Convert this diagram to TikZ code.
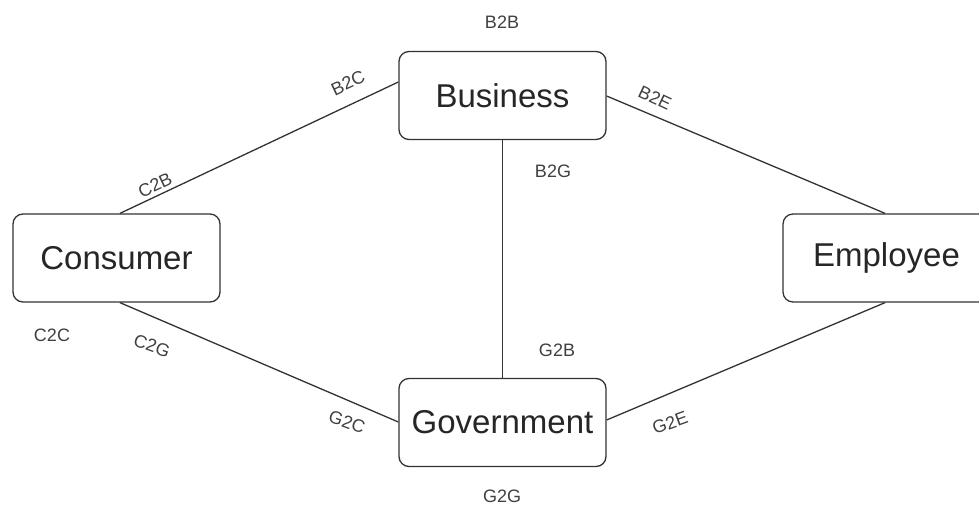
\documentclass[tikz,border=0pt]{standalone}
\usepackage{fontspec}
\setmainfont{Liberation Sans}
\begin{document}
\begin{tikzpicture}[x=1pt,y=-1pt,
  box/.style={draw=black!80, line width=1.3pt, rounded corners=10pt, minimum width=207pt, minimum height=88pt, inner sep=0pt, font=\fontsize{33}{36}\selectfont, text=black!85},
  conn/.style={draw=black!80, line width=1.3pt},
  lbl/.style={font=\fontsize{18}{20}\selectfont, text=black!75, inner sep=0pt}]
\useasboundingbox[fill=white] (0,0) rectangle (979,506);
\node[box] (bus) at (502.5,95.5) {Business};
\node[box] (con) at (116.5,258) {Consumer};
\node[box] (emp) at (886.5,258) {Employee};
\node[box] (gov) at (502.5,422.5) {Government};
\coordinate (busL) at (bus.west |- 0,82);
\coordinate (busR) at (bus.east |- 0,96);
\coordinate (conT) at (con.north -| 120,0);
\coordinate (conB) at (con.south -| 120,0);
\coordinate (empT) at (emp.north -| 885,0);
\coordinate (empB) at (emp.south -| 885,0);
\coordinate (govL) at (gov.west |- 0,422);
\coordinate (govR) at (gov.east |- 0,420);
\draw[conn] (busL) -- (conT);
\draw[conn] (busR) -- (empT);
\draw[conn] (bus.south) -- (gov.north);
\draw[conn] (conB) -- (govL);
\draw[conn] (govR) -- (empB);
\node[lbl] (lb2b) at (502,22) {B2B};
\node[lbl, rotate=25] (lb2c) at (348,83) {B2C};
\node[lbl, rotate=25] (lc2b) at (155,185) {C2B};
\node[lbl, rotate=-25] (lb2e) at (655,98) {B2E};
\node[lbl] (lb2g) at (553,171) {B2G};
\node[lbl] (lg2b) at (557,350) {G2B};
\node[lbl, rotate=-20] (lg2c) at (347,422) {G2C};
\node[lbl, rotate=20] (lg2e) at (670,423) {G2E};
\node[lbl] (lg2g) at (502,496) {G2G};
\node[lbl] (lc2c) at (52,335) {C2C};
\node[lbl, rotate=-20] (lc2g) at (152,346) {C2G};
\end{tikzpicture}
\end{document}
